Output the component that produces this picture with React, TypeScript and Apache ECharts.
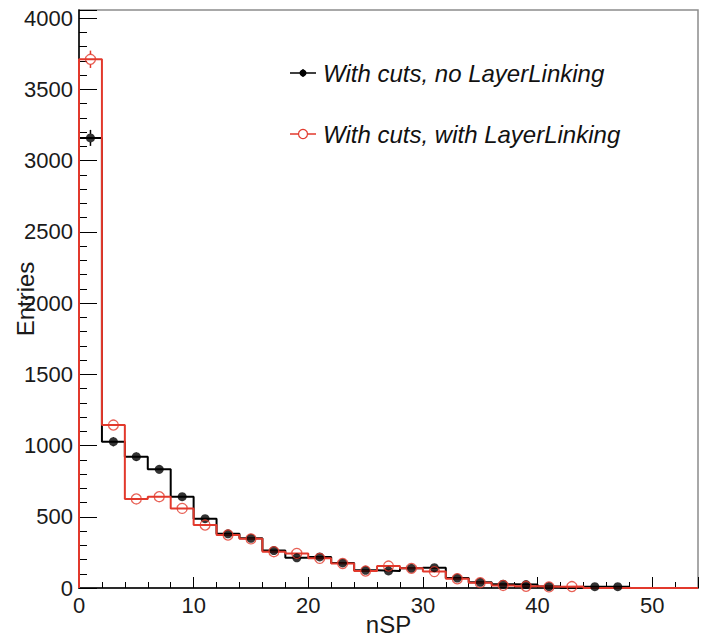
import React, { useEffect, useRef } from "react";
import * as echarts from "echarts";

// bin edges: 0..54 in steps of 2 (27 bins)
const binEdges = [0, 2, 4, 6, 8, 10, 12, 14, 16, 18, 20, 22, 24, 26, 28, 30, 32, 34, 36, 38, 40, 42, 44, 46, 48, 50, 52, 54];
const noLayerLinking = [3160, 1027, 922, 833, 641, 487, 380, 349, 263, 212, 218, 176, 124, 120, 138, 143, 70, 40, 27, 24, 10, 0, 9, 9, 0, 0, 0];
const withLayerLinking = [3712, 1144, 625, 641, 559, 442, 372, 345, 255, 243, 208, 172, 119, 154, 138, 115, 65, 37, 18, 12, 8, 10, 0, 0, 0, 0, 0];
const seriesNames = ["With cuts, no LayerLinking", "With cuts, with LayerLinking"];
const xTitle = "nSP";
const yTitle = "Entries";
const xMax = 54;
const yMax = 4058;

const BLACK = "#000000";
const RED = "#e2392c";
const FONT = "'Liberation Sans', Arial, Helvetica, sans-serif";

function histPoints(vals: number[]) {
  const pts: number[][] = [[binEdges[0], 0]];
  vals.forEach((v, i) => pts.push([binEdges[i], v]));
  pts.push([binEdges[binEdges.length - 1], 0]);
  return pts;
}
function centerPoints(vals: number[]) {
  const pts: number[][] = [];
  vals.forEach((v, i) => {
    if (v > 0) pts.push([(binEdges[i] + binEdges[i + 1]) / 2, v]);
  });
  return pts;
}
// error bars (sqrt(N)), drawn only outside the marker, as ROOT does
function errorSeries(vals: number[], color: string, markerR: number) {
  return {
    type: "custom",
    silent: true,
    data: centerPoints(vals),
    renderItem: (params: any, api: any) => {
      const x = api.value(0);
      const y = api.value(1);
      const e = Math.sqrt(y);
      const c = api.coord([x, y]);
      const lo = api.coord([x, y - e]);
      const hi = api.coord([x, y + e]);
      const children: any[] = [];
      if (c[1] - hi[1] > markerR) {
        children.push({
          type: "line",
          shape: { x1: c[0], y1: hi[1], x2: c[0], y2: c[1] - markerR },
          style: { stroke: color, lineWidth: 1.5 },
        });
      }
      if (lo[1] - c[1] > markerR) {
        children.push({
          type: "line",
          shape: { x1: c[0], y1: c[1] + markerR, x2: c[0], y2: lo[1] },
          style: { stroke: color, lineWidth: 1.5 },
        });
      }
      return { type: "group", children };
    },
    z: 4,
  };
}

export default function App() {
  const ref = useRef<HTMLDivElement>(null);
  useEffect(() => {
    if (!ref.current) return;
    const chart = echarts.init(ref.current, null, { renderer: "svg" });
    const labelStyle = { color: "#1a1a1a", fontSize: 22, fontFamily: FONT };
    const legendY = [73, 134];
    chart.setOption({
      animation: false,
      backgroundColor: "#ffffff",
      grid: {
        left: 79,
        right: 4,
        top: 10,
        bottom: 56,
        containLabel: false,
        outerBoundsMode: "none",
        show: true,
        borderColor: "#8c8c8c",
        borderWidth: 1.5,
        backgroundColor: "transparent",
      },
      xAxis: [
        {
          type: "value",
          min: 0,
          max: xMax,
          interval: 10,
          position: "bottom",
          name: xTitle,
          nameLocation: "middle",
          nameGap: 24,
          nameMoveOverlap: false,
          nameTextStyle: { color: "#1a1a1a", fontSize: 24, fontFamily: FONT },
          axisLine: { show: true, onZero: false, lineStyle: { color: BLACK, width: 1.5 } },
          axisTick: { show: true, inside: true, length: 11, lineStyle: { color: BLACK, width: 1 } },
          axisLabel: {
            ...labelStyle,
            margin: 6,
            formatter: (v: number) => (v % 10 === 0 ? String(v) : ""),
          },
          splitLine: { show: false },
        },
        {
          type: "value",
          min: 0,
          max: xMax,
          interval: 2,
          position: "bottom",
          axisLine: { show: false },
          axisTick: { show: true, inside: true, length: 6, lineStyle: { color: BLACK, width: 1 } },
          axisLabel: { show: false },
          splitLine: { show: false },
        },
      ],
      yAxis: [
        {
          type: "value",
          min: 0,
          max: yMax,
          interval: 500,
          position: "left",
          name: yTitle,
          nameLocation: "middle",
          nameGap: 42,
          nameMoveOverlap: false,
          nameTextStyle: { color: "#1a1a1a", fontSize: 24, fontFamily: FONT },
          axisLine: { show: true, onZero: false, lineStyle: { color: BLACK, width: 1.5 } },
          axisTick: { show: true, inside: true, length: 18, lineStyle: { color: BLACK, width: 1 } },
          axisLabel: {
            ...labelStyle,
            margin: 6,
            formatter: (v: number) => (v % 500 === 0 ? String(v) : ""),
          },
          splitLine: { show: false },
        },
        {
          type: "value",
          min: 0,
          max: yMax,
          interval: 100,
          position: "left",
          axisLine: { show: false },
          axisTick: { show: true, inside: true, length: 8, lineStyle: { color: BLACK, width: 1 } },
          axisLabel: { show: false },
          splitLine: { show: false },
        },
      ],
      series: [
        {
          type: "line",
          name: seriesNames[0] + " hist",
          step: "end",
          data: histPoints(noLayerLinking),
          showSymbol: false,
          symbol: "none",
          lineStyle: { color: BLACK, width: 2 },
          z: 2,
        },
        {
          type: "line",
          name: seriesNames[1] + " hist",
          step: "end",
          data: histPoints(withLayerLinking),
          showSymbol: false,
          symbol: "none",
          lineStyle: { color: RED, width: 2 },
          z: 3,
        },
        errorSeries(noLayerLinking, BLACK, 4),
        {
          type: "scatter",
          name: seriesNames[0],
          data: centerPoints(noLayerLinking),
          symbol: "circle",
          symbolSize: 9,
          itemStyle: { color: BLACK },
          z: 5,
        },
        errorSeries(withLayerLinking, RED, 5),
        {
          type: "scatter",
          name: seriesNames[1],
          data: centerPoints(withLayerLinking),
          symbol: "circle",
          symbolSize: 10,
          itemStyle: { color: "transparent", borderColor: RED, borderWidth: 1.3 },
          z: 6,
        },
      ],
      graphic: [
        { type: "line", shape: { x1: 290, y1: legendY[0], x2: 316, y2: legendY[0] }, style: { stroke: BLACK, lineWidth: 1.5 } },
        { type: "line", shape: { x1: 303, y1: legendY[0] - 4, x2: 303, y2: legendY[0] + 4 }, style: { stroke: BLACK, lineWidth: 1.2 } },
        { type: "circle", shape: { cx: 303, cy: legendY[0], r: 3.5 }, style: { fill: BLACK } },
        {
          type: "text",
          x: 323,
          y: legendY[0],
          style: { text: seriesNames[0], fill: "#111", font: `italic 24px ${FONT}`, verticalAlign: "middle", align: "left" },
        },
        { type: "line", shape: { x1: 290, y1: legendY[1], x2: 298, y2: legendY[1] }, style: { stroke: RED, lineWidth: 1.5 } },
        { type: "line", shape: { x1: 308, y1: legendY[1], x2: 316, y2: legendY[1] }, style: { stroke: RED, lineWidth: 1.5 } },
        { type: "circle", shape: { cx: 303, cy: legendY[1], r: 4.5 }, style: { fill: "transparent", stroke: RED, lineWidth: 1.2 } },
        {
          type: "text",
          x: 323,
          y: legendY[1],
          style: { text: seriesNames[1], fill: "#111", font: `italic 24px ${FONT}`, verticalAlign: "middle", align: "left" },
        },
      ],
    });
    return () => chart.dispose();
  }, []);
  return (
    <div
      ref={ref}
      style={{ position: "fixed", left: 0, top: 0, width: 702, height: 644, background: "#fff" }}
    />
  );
}
